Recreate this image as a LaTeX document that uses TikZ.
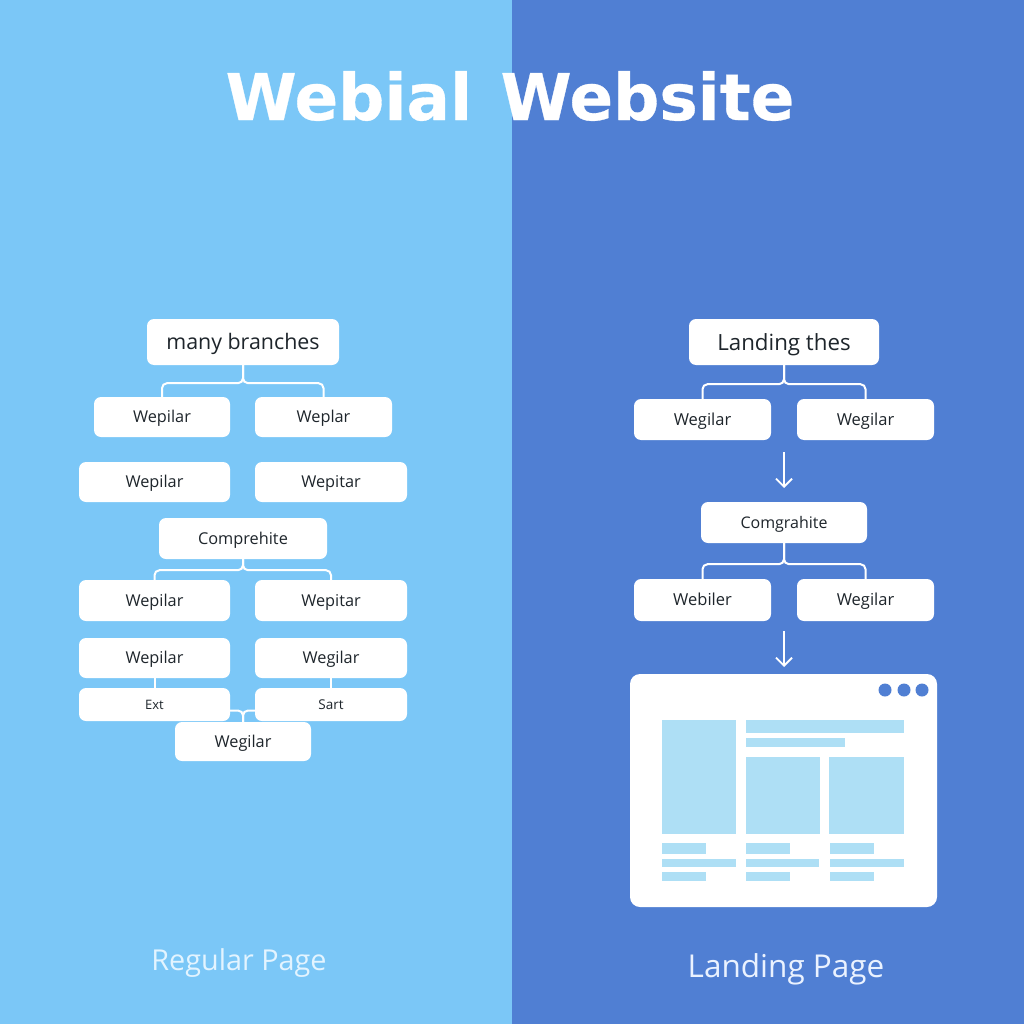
\documentclass[tikz,border=0pt]{standalone}
\usepackage{fontspec}
\setmainfont{Open Sans}
\newfontfamily\titlefont[BoldFeatures={FakeBold=0.5}]{DejaVu Sans}
\usetikzlibrary{arrows.meta}
\definecolor{leftbg}{HTML}{7BC7F7}
\definecolor{rightbg}{HTML}{507FD3}
\definecolor{lightfill}{HTML}{AEDFF5}
\definecolor{inktext}{HTML}{1E252B}
\definecolor{leftcap}{HTML}{E3F4FF}
\definecolor{rightcap}{HTML}{EAF2FF}
\tikzset{
  boxnode/.style={fill=white,rounded corners=7pt,inner sep=0pt,text=inktext,text depth=0pt},
  conn/.style={draw=white,line width=2pt,rounded corners=5pt},
  flow/.style={draw=white,line width=1.8pt,-{Straight Barb[length=8pt,width=16pt,line width=1.8pt]}},
  ghost/.style={fill=lightfill,draw=none},
  dot/.style={circle,fill=rightbg,minimum size=13pt,inner sep=0pt},
  caption/.style={text depth=0pt},
}
\newcommand{\bx}[7]{\node[boxnode,text height=#7*0.72pt,minimum width=(#4-#2)*1pt,minimum height=(#5-#3)*1pt,font=\fontsize{#7}{#7}\selectfont] (#1) at ({(#2+#4)/2},{(#3+#5)/2}) {#6};}
\newcommand{\gr}[4]{\fill[ghost] (#1,#2) rectangle (#3,#4);}
\begin{document}
\begin{tikzpicture}[x=1pt,y=-1pt]
\useasboundingbox (0,0) rectangle (1024,1024);
\fill[leftbg] (0,0) rectangle (512,1024);
\fill[rightbg] (512,0) rectangle (1024,1024);
\node[text=white,font=\titlefont\bfseries\fontsize{64.5}{64.5}\selectfont] (title) at (510,96) {Webial\hspace{6pt} Website};
% left
\bx{lroot}{147}{319}{339}{365}{many branches}{21.4}
\bx{la}{94}{397}{230}{437}{Wepilar}{16.3}
\bx{lb}{255}{397}{392}{437}{Weplar}{16.3}
\bx{lc}{79}{462}{230}{502}{Wepilar}{16.3}
\bx{ld}{255}{462}{407}{502}{Wepitar}{16.3}
\bx{lmid}{159}{518}{327}{559}{Comprehite}{16.3}
\bx{le}{79}{580}{230}{621}{Wepilar}{16.3}
\bx{lf}{255}{580}{407}{621}{Wepitar}{16.3}
\bx{lg}{79}{638}{230}{678}{Wepilar}{16.3}
\bx{lh}{255}{638}{407}{678}{Wegilar}{16.3}
\bx{li}{79}{688}{230}{721}{Ext}{13}
\bx{lj}{255}{688}{407}{721}{Sart}{13.5}
\bx{lk}{175}{722}{311}{761}{Wegilar}{16.3}
\draw[conn] (lroot.south) -- ++(0,18) -| (la.north);
\draw[conn] (lroot.south) -- ++(0,18) -| (lb.north);
\draw[conn] (lmid.south) -- ++(0,11) -| (le.north);
\draw[conn] (lmid.south) -- ++(0,11) -| (lf.north);
\draw[conn] (lg.south) -- (li.north);
\draw[conn] (lh.south) -- (lj.north);
\draw[conn] ([yshift=-6pt]li.east) -| (lk.north);
\draw[conn] ([yshift=-6pt]lj.west) -| (lk.north);
\node[caption,text height=20.7pt,text=leftcap,font=\fontsize{28.8}{28.8}\selectfont] (lcap) at (239,960) {Regular Page};
% right
\bx{rroot}{689}{319}{879}{365}{Landing thes}{22.3}
\bx{ra}{634}{399}{771}{440}{Wegilar}{16.5}
\bx{rb}{797}{399}{934}{440}{Wegilar}{16.5}
\bx{rmid}{701}{502}{867}{543}{Comgrahite}{16}
\bx{rc}{634}{579}{771}{621}{Webiler}{16.5}
\bx{rd}{797}{579}{934}{621}{Wegilar}{16.5}
\draw[conn] (rroot.south) -- ++(0,19) -| (ra.north);
\draw[conn] (rroot.south) -- ++(0,19) -| (rb.north);
\draw[conn] (rmid.south) -- ++(0,21) -| (rc.north);
\draw[conn] (rmid.south) -- ++(0,21) -| (rd.north);
\coordinate (a1s) at (784,452);
\coordinate (a1e) at (784,488);
\coordinate (a2s) at (784,631);
\coordinate (a2e) at (784,667);
\draw[flow] (a1s) -- (a1e);
\draw[flow] (a2s) -- (a2e);
% browser
\fill[white,rounded corners=10pt] (630,674) rectangle (937,907);
\node[dot] (d1) at (885,690) {};
\node[dot] (d2) at (904,690) {};
\node[dot] (d3) at (922,690) {};
\gr{662}{720}{736}{834}
\gr{746}{720}{904}{733}
\gr{746}{738}{845}{747}
\gr{746}{757}{820}{834}
\gr{829}{757}{904}{834}
\gr{662}{843}{706}{854}
\gr{662}{859}{736}{867}
\gr{662}{872}{706}{881}
\gr{746}{843}{790}{854}
\gr{746}{859}{819}{867}
\gr{746}{872}{790}{881}
\gr{830}{843}{874}{854}
\gr{830}{859}{904}{867}
\gr{830}{872}{874}{881}
\node[caption,text height=22.7pt,text=rightcap,font=\fontsize{31.5}{31.5}\selectfont] (rcap) at (786,966) {Landing Page};
\end{tikzpicture}
\end{document}
